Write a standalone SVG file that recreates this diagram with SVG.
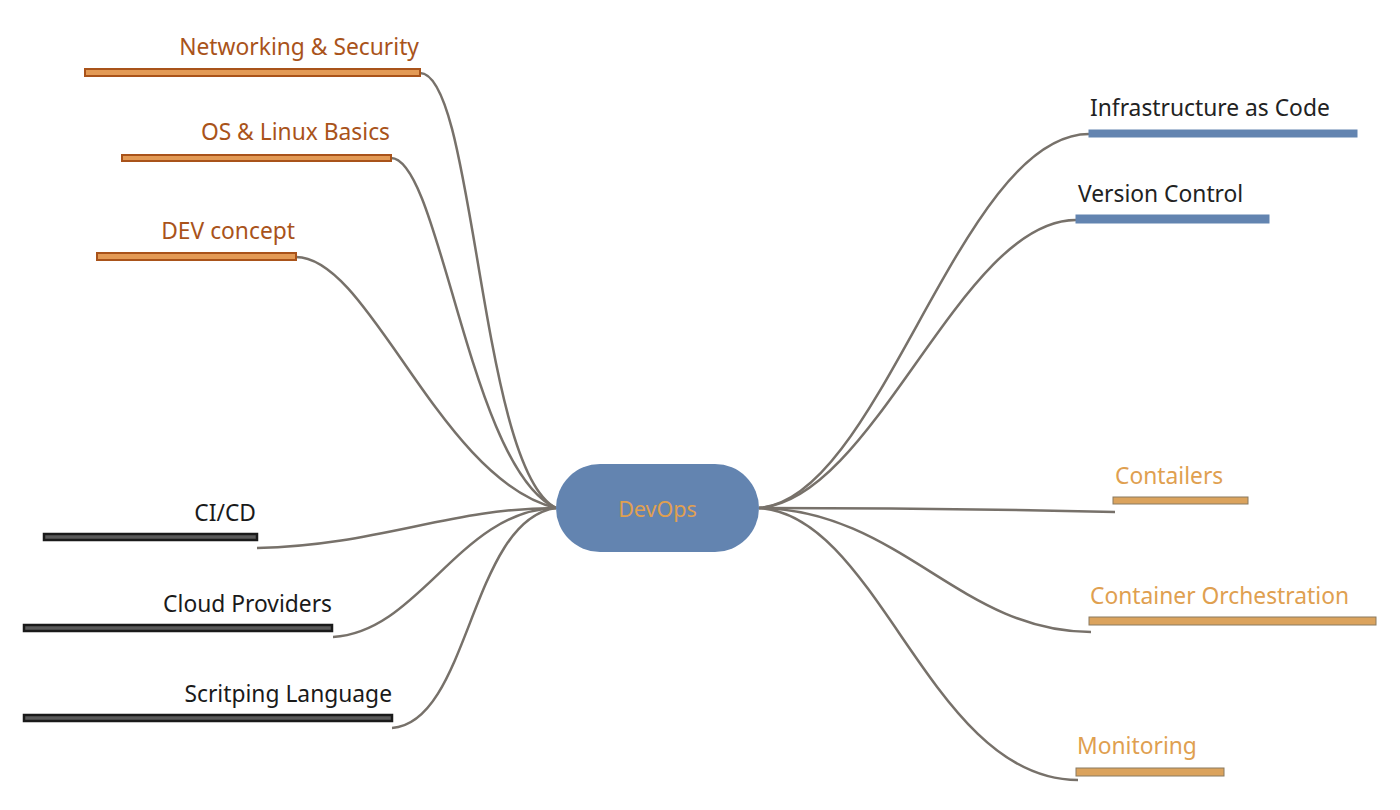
<svg xmlns="http://www.w3.org/2000/svg" width="1400" height="810" viewBox="0 0 1400 810">
<style>
text{font-family:"Noto Sans","Open Sans","Liberation Sans",sans-serif;font-size:22.8px}
.lt{fill:#a9531a;text-anchor:end}
.dt{fill:#1a1a1a;text-anchor:end}
.rt{fill:#222}
.ot{fill:#dfa050}
.lb{fill:#e39a55;stroke:#a9531a;stroke-width:2}
.db{fill:#5a5a5a;stroke:#1a1a1a;stroke-width:2.5}
.bb{fill:#6384b0;stroke:#6384b0;stroke-width:1}
.ob{fill:#dba35d;stroke:#8a7a60;stroke-width:1}
.c{fill:none;stroke:#77716a;stroke-width:2.5}
</style>
<g id="connectors">
<path class="c" d="M420,73 C475,73 480,470 556,508"/>
<path class="c" d="M391,158 C440,158 470,470 556,508"/>
<path class="c" d="M296,257 C370,257 440,480 556,508"/>
<path class="c" d="M257,548 C380,545 450,508 556,508"/>
<path class="c" d="M333,637 C420,632 460,510 556,508"/>
<path class="c" d="M392,728 C470,722 470,520 556,508"/>
<path class="c" d="M759,508 C880,500 960,134 1089,134"/>
<path class="c" d="M759,508 C875,500 960,220 1076,220"/>
<path class="c" d="M759,508 Q940,508 1115,512"/>
<path class="c" d="M759,508 C900,510 960,632 1091,632"/>
<path class="c" d="M759,508 C880,515 930,780 1078,780"/>
</g>
<g id="devops">
<rect x="556" y="464" width="203" height="88" rx="44" fill="#6384b0"/>
<text x="657.5" y="517" text-anchor="middle" fill="#e0a050" style="font-size:21.5px">DevOps</text>
</g>
<g id="networking">
<rect class="lb" x="85" y="69" width="335" height="7"/>
<text class="lt" x="419" y="55">Networking &amp; Security</text>
</g>
<g id="os">
<rect class="lb" x="122" y="155" width="269" height="6"/>
<text class="lt" x="390" y="140">OS &amp; Linux Basics</text>
</g>
<g id="dev">
<rect class="lb" x="97" y="253" width="199" height="7"/>
<text class="lt" x="295" y="239">DEV concept</text>
</g>
<g id="cicd">
<rect class="db" x="44" y="534" width="213" height="6"/>
<text class="dt" x="256" y="521">CI/CD</text>
</g>
<g id="cloud">
<rect class="db" x="24" y="625" width="308" height="6"/>
<text class="dt" x="332" y="612">Cloud Providers</text>
</g>
<g id="scripting">
<rect class="db" x="24" y="715" width="368" height="6"/>
<text class="dt" x="392" y="702">Scritping Language</text>
</g>
<g id="iac">
<rect class="bb" x="1089" y="130" width="268" height="7"/>
<text class="rt" x="1090" y="116">Infrastructure as Code</text>
</g>
<g id="vcs">
<rect class="bb" x="1076" y="215" width="193" height="8"/>
<text class="rt" x="1078" y="202">Version Control</text>
</g>
<g id="containers">
<rect class="ob" x="1113" y="497" width="135" height="7"/>
<text class="ot" x="1115" y="484">Contailers</text>
</g>
<g id="orchestration">
<rect class="ob" x="1089" y="617" width="287" height="8"/>
<text class="ot" x="1090" y="604">Container Orchestration</text>
</g>
<g id="monitoring">
<rect class="ob" x="1076" y="768" width="148" height="8"/>
<text class="ot" x="1077" y="754">Monitoring</text>
</g>
</svg>
